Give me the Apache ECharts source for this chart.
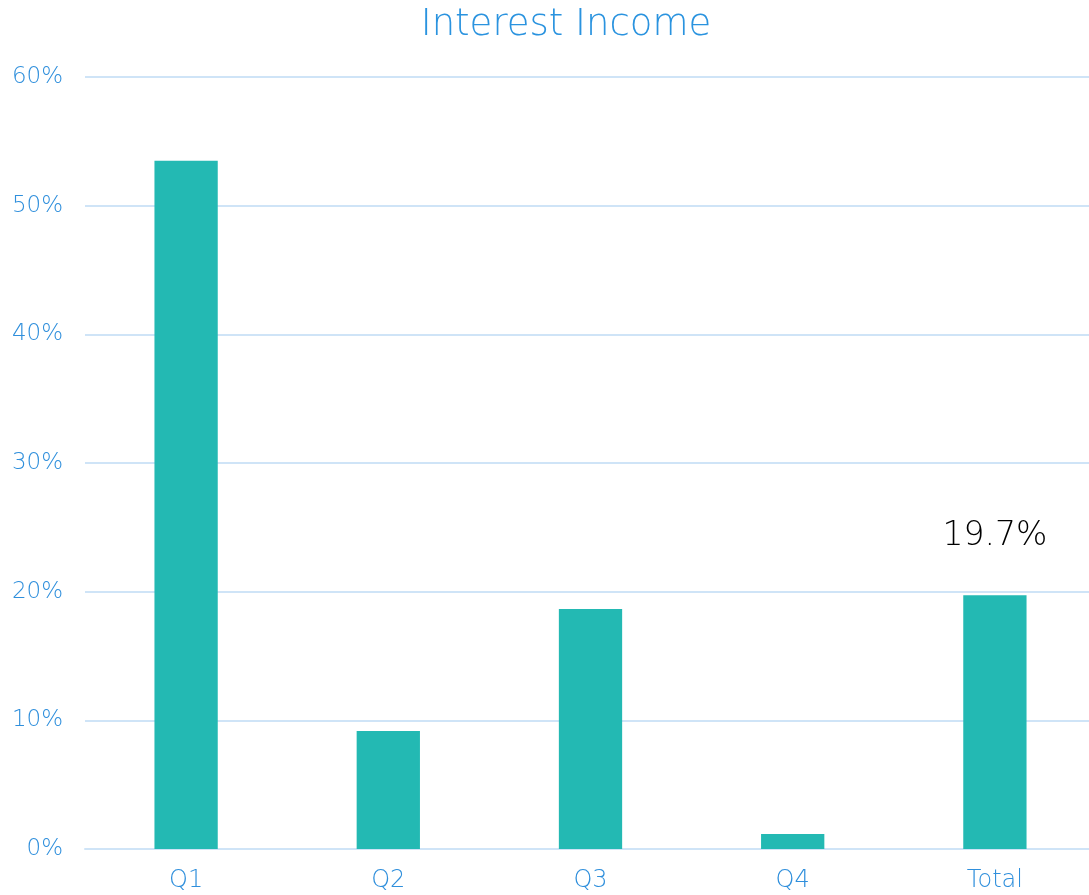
<!DOCTYPE html>
<html>
<head>
<meta charset="utf-8">
<script src="https://cdn.jsdelivr.net/npm/echarts@6/dist/echarts.min.js"></script>
<style>
html,body{margin:0;padding:0;background:#fff;overflow:hidden;}
#chart{width:1096px;height:895px;}
</style>
</head>
<body>
<div id="chart"></div>
<script>
const categories = ['Q1', 'Q2', 'Q3', 'Q4', 'Total'];
const values = [53.5, 9.18, 18.65, 1.17, 19.73];
const labelTexts = ['', '', '', '', '19.7%'];
const yTicks = [0, 10, 20, 30, 40, 50, 60];

const FONT = '"DejaVu Sans", Lato, sans-serif';
const chart = echarts.init(document.getElementById('chart'));
chart.setOption({
  animation: false,
  title: {
    text: 'Interest Income',
    left: 561,
    textAlign: 'center',
    top: 2,
    textStyle: { color: '#2a93df', fontSize: 37, fontWeight: 200, fontFamily: FONT }
  },
  grid: { left: 85, right: 0, top: 77, bottom: 46, containLabel: false },
  xAxis: {
    type: 'category',
    data: categories,
    axisLine: { show: true, lineStyle: { color: '#cfe4f7', width: 2 } },
    axisTick: { show: false },
    axisLabel: { color: '#2f8fdc', fontSize: 24, fontWeight: 200, fontFamily: FONT, margin: 20 }
  },
  yAxis: {
    type: 'value',
    min: yTicks[0],
    max: yTicks[yTicks.length - 1],
    interval: 10,
    axisLine: { show: false },
    axisTick: { show: false },
    splitLine: { lineStyle: { color: '#cfe4f7', width: 2 } },
    axisLabel: { color: '#2f8fdc', fontSize: 23, fontWeight: 200, fontFamily: FONT, margin: 22,
      formatter: v => v + '%' }
  },
  series: [{
    type: 'bar',
    data: values,
    barWidth: '31.3%',
    itemStyle: { color: '#23b9b3' },
    label: {
      show: true,
      position: 'top',
      distance: 42,
      color: '#000',
      fontSize: 33,
      fontWeight: 200,
      fontFamily: FONT,
      formatter: p => labelTexts[p.dataIndex]
    }
  }]
});
</script>
</body>
</html>
